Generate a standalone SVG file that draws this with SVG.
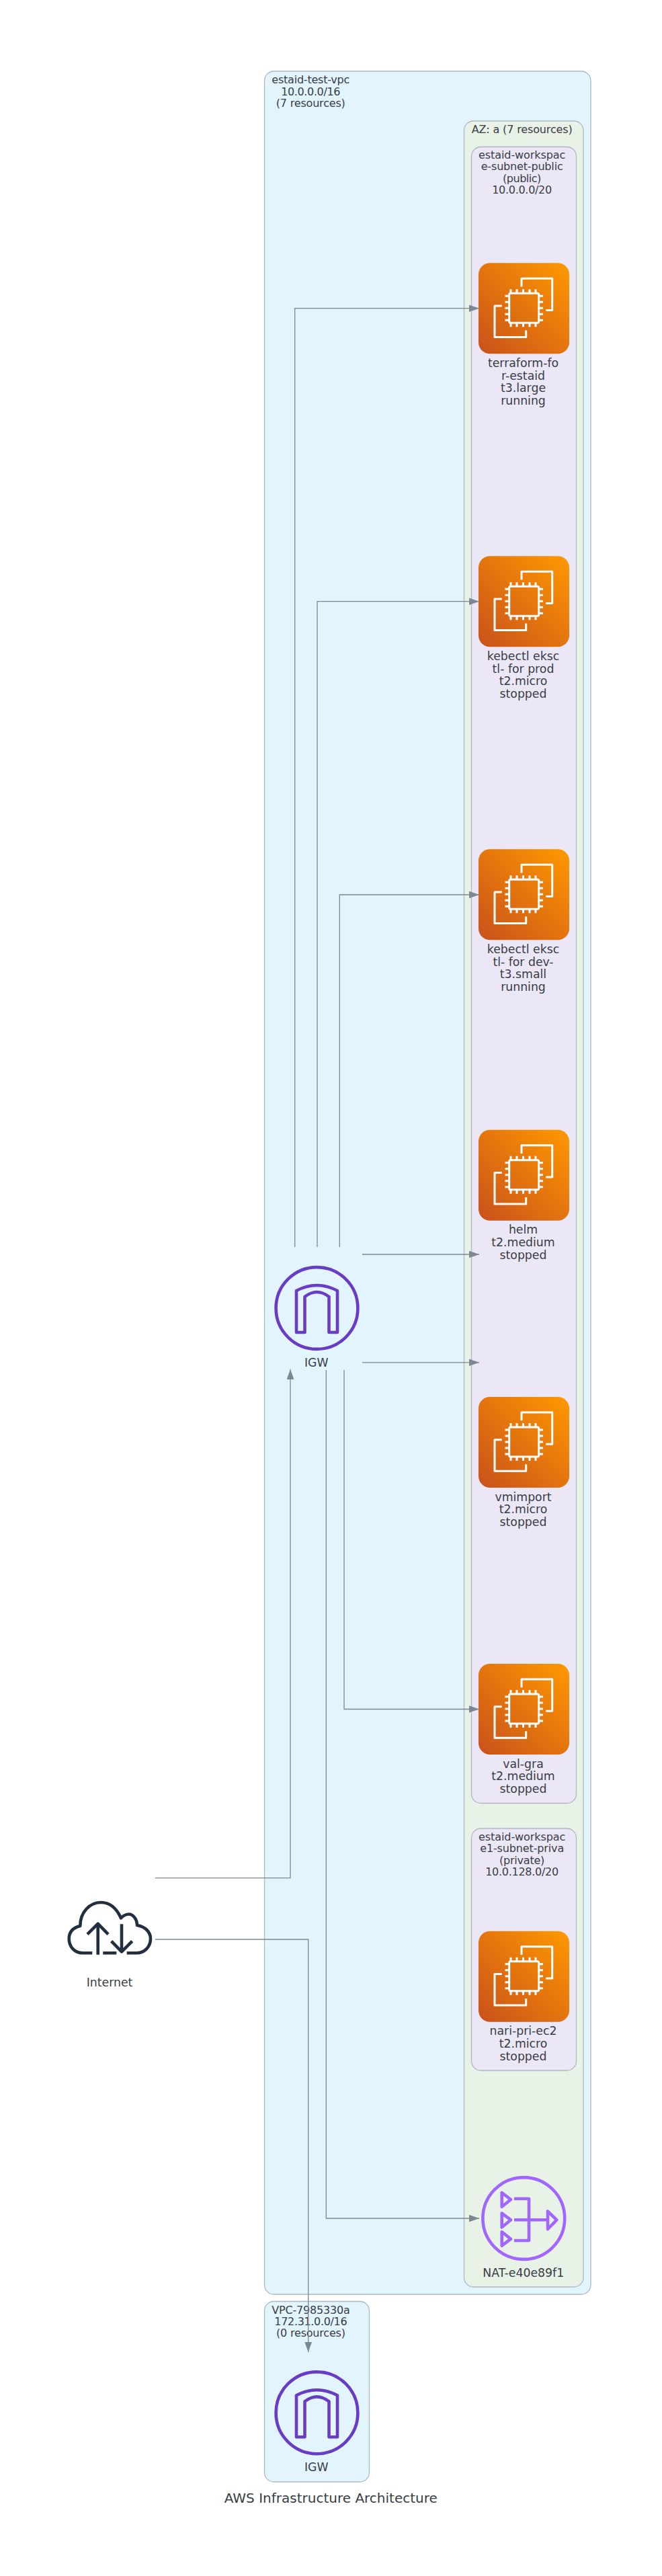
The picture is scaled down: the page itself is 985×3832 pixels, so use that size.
<svg xmlns="http://www.w3.org/2000/svg" xmlns:xlink="http://www.w3.org/1999/xlink" width="985" height="3832" viewBox="0 0 985 3832">
<style>
text{font-family:"DejaVu Sans",sans-serif;fill:#383d44;text-anchor:middle}
.c{font-size:16px}
.n{font-size:17.3px}
.t{font-size:20px}
.box{stroke:#adb8c2;stroke-width:1.3}
.vpc{fill:#e2f4fd}
.az{fill:#e9f2e7}
.sub{fill:#ece7f6}
.edge{fill:none;stroke:#7b8894;stroke-width:1.3}
.w{fill:none;stroke:#fff;stroke-width:3;stroke-linejoin:round;stroke-linecap:butt}
.igw{fill:none;stroke:#693cc5;stroke-width:4.6;stroke-linejoin:round}
.nat{fill:none;stroke:#a166ff;stroke-width:4.6;stroke-linejoin:round}
.cl{fill:none;stroke:#232f3e;stroke-width:4.6;stroke-linejoin:round}
</style>
<defs>
<linearGradient id="g" x1="0" y1="1" x2="1" y2="0"><stop offset="0" stop-color="#c8511b"/><stop offset="1" stop-color="#f90"/></linearGradient>
<marker id="a" markerUnits="userSpaceOnUse" markerWidth="16" markerHeight="12" refX="15.5" refY="5.5" orient="auto"><path d="M0 0L15.5 5.5L0 11z" fill="#7b8894"/></marker>
<g id="ec2">
<rect width="135" height="135" rx="17" fill="url(#g)"/>
<path class="w" d="M64 35.3V23H109.7V70.3H100.3M34.7 63.7H24V110.3H70.7V100.3"/>
<rect class="w" x="45.7" y="45" width="44" height="44" rx="2"/>
<path class="w" d="M48 39V45M57 39V45M66.5 39V45M76 39V45M85 39V45M48 89V95M57 89V95M66.5 89V95M76 89V95M85 89V95M39.5 49H45.7M39.5 58H45.7M39.5 67H45.7M39.5 76H45.7M39.5 85H45.7M89.7 49H96M89.7 58H96M89.7 67H96M89.7 76H96M89.7 85H96"/>
</g>
<g id="igwi">
<circle class="igw" r="60.9"/>
<path class="igw" d="M-30.5 36V-26Q0 -42 30.5 -26V36H18V-17Q0 -31 -18 -17V36Z"/>
</g>
</defs>
<rect width="985" height="3832" fill="#fff"/>
<g id="vpc-main">
<rect class="box vpc" x="393.5" y="106" width="485.5" height="3307" rx="14"/>
<text class="c" x="462.3" y="124" textLength="116">estaid-test-vpc</text>
<text class="c" x="462.3" y="141.5" textLength="88.3">10.0.0.0/16</text>
<text class="c" x="462.3" y="158.5" textLength="103">(7 resources)</text>
</g>
<g id="az-a">
<rect class="box az" x="690.5" y="180" width="177.5" height="3222" rx="14"/>
<text class="c" x="776.7" y="197.5" textLength="150">AZ: a (7 resources)</text>
</g>
<g id="subnet-public">
<rect class="box sub" x="701.5" y="218.5" width="156" height="2464" rx="14"/>
<text class="c" x="776.7" y="236" textLength="129.3">estaid-workspac</text>
<text class="c" x="776.7" y="253.3" textLength="122">e-subnet-public</text>
<text class="c" x="776.7" y="270.6" textLength="57.3">(public)</text>
<text class="c" x="776.7" y="288" textLength="89">10.0.0.0/20</text>
</g>
<g id="subnet-private">
<rect class="box sub" x="701.5" y="2720" width="156" height="360" rx="14"/>
<text class="c" x="776.7" y="2738" textLength="129.3">estaid-workspac</text>
<text class="c" x="776.7" y="2755.3" textLength="125">e1-subnet-priva</text>
<text class="c" x="776.7" y="2772.6" textLength="67.3">(private)</text>
<text class="c" x="776.7" y="2790" textLength="109">10.0.128.0/20</text>
</g>
<g id="vpc-default">
<rect class="box vpc" x="393.5" y="3423.5" width="156" height="268.5" rx="14"/>
<text class="c" x="462.5" y="3441.5" textLength="116.7">VPC-7985330a</text>
<text class="c" x="462.5" y="3458.8" textLength="108.3">172.31.0.0/16</text>
<text class="c" x="462.5" y="3476" textLength="103">(0 resources)</text>
</g>
<g id="ec2-terraform">
<use xlink:href="#ec2" href="#ec2" x="712" y="391.3"/>
<text class="n" x="778.5" y="546">terraform-fo</text>
<text class="n" x="778.5" y="564.7">r-estaid</text>
<text class="n" x="778.5" y="583.4">t3.large</text>
<text class="n" x="778.5" y="602.1">running</text>
</g>
<g id="ec2-kebectl-prod">
<use xlink:href="#ec2" href="#ec2" x="712" y="827.3"/>
<text class="n" x="778.5" y="982">kebectl eksc</text>
<text class="n" x="778.5" y="1000.7">tl- for prod</text>
<text class="n" x="778.5" y="1019.4">t2.micro</text>
<text class="n" x="778.5" y="1038.1">stopped</text>
</g>
<g id="ec2-kebectl-dev">
<use xlink:href="#ec2" href="#ec2" x="712" y="1263.3"/>
<text class="n" x="778.5" y="1418">kebectl eksc</text>
<text class="n" x="778.5" y="1436.7">tl- for dev-</text>
<text class="n" x="778.5" y="1455.4">t3.small</text>
<text class="n" x="778.5" y="1474.1">running</text>
</g>
<g id="ec2-helm">
<use xlink:href="#ec2" href="#ec2" x="712" y="1680.7"/>
<text class="n" x="778.5" y="1835.4">helm</text>
<text class="n" x="778.5" y="1854.1">t2.medium</text>
<text class="n" x="778.5" y="1872.8">stopped</text>
</g>
<g id="ec2-vmimport">
<use xlink:href="#ec2" href="#ec2" x="712" y="2078"/>
<text class="n" x="778.5" y="2232.7">vmimport</text>
<text class="n" x="778.5" y="2251.4">t2.micro</text>
<text class="n" x="778.5" y="2270.1">stopped</text>
</g>
<g id="ec2-val-gra">
<use xlink:href="#ec2" href="#ec2" x="712" y="2475"/>
<text class="n" x="778.5" y="2629.7">val-gra</text>
<text class="n" x="778.5" y="2648.4">t2.medium</text>
<text class="n" x="778.5" y="2667.1">stopped</text>
</g>
<g id="ec2-nari">
<use xlink:href="#ec2" href="#ec2" x="712" y="2872.7"/>
<text class="n" x="778.5" y="3027.4">nari-pri-ec2</text>
<text class="n" x="778.5" y="3046.1">t2.micro</text>
<text class="n" x="778.5" y="3064.8">stopped</text>
</g>
<g id="nat">
<circle class="nat" cx="779.3" cy="3300" r="60.9"/>
<path class="nat" d="M746.7 3261.7L760 3272L746.7 3282.7ZM746.7 3292.3L760 3302.3L746.7 3313.3ZM746.7 3320L760 3330.7L746.7 3340.7ZM765 3270.7H787V3333H765M765 3302.3H813M815 3289.3L828.3 3302.3L815 3316Z"/>
<text class="n" x="778.7" y="3386.7">NAT-e40e89f1</text>
</g>
<g id="igw-main">
<use xlink:href="#igwi" href="#igwi" x="471.5" y="1946"/>
<text class="n" x="470.7" y="2032.9">IGW</text>
</g>
<g id="igw-default">
<use xlink:href="#igwi" href="#igwi" x="471.5" y="3589.3"/>
<text class="n" x="470.7" y="3676">IGW</text>
</g>
<g id="internet">
<path class="cl" d="M137.3 2905.3H123.3C111 2905.3 102.7 2896 102.7 2884C102.7 2874 109 2867.5 119.3 2865C119.3 2845 133 2830 150 2830C164 2830 174 2840 180 2853.3C184 2849 187 2847.5 191.7 2847.5C198 2847.5 204 2855 204 2864C216 2866 224 2874 224 2884C224 2896 215 2905.3 203.3 2905.3H188.7M153.3 2905.3H173.3M145.7 2907.7V2862M130 2877.3L145.7 2861.7L161 2877.3M181 2862.3V2903M165.7 2887.7L181 2903.3L196.7 2887.7"/>
<text class="n" x="163" y="2955">Internet</text>
</g>
<g id="connectors">
<path class="edge" marker-end="url(#a)" d="M438.7 1855V458.7H713"/>
<path class="edge" marker-end="url(#a)" d="M472 1855V894.7H713"/>
<path class="edge" marker-end="url(#a)" d="M505.3 1855V1331H713"/>
<path class="edge" marker-end="url(#a)" d="M539 1866H713"/>
<path class="edge" marker-end="url(#a)" d="M539 2026.8H713"/>
<path class="edge" marker-end="url(#a)" d="M512 2038V2542.5H713"/>
<path class="edge" marker-end="url(#a)" d="M485.3 2038V3300H713"/>
<path class="edge" marker-end="url(#a)" d="M231 2793.7H432V2036.8"/>
<path class="edge" marker-end="url(#a)" d="M231 2885H458.7V3499"/>
</g>
<g id="title"><text class="t" x="492.3" y="3723.3">AWS Infrastructure Architecture</text></g>
</svg>
